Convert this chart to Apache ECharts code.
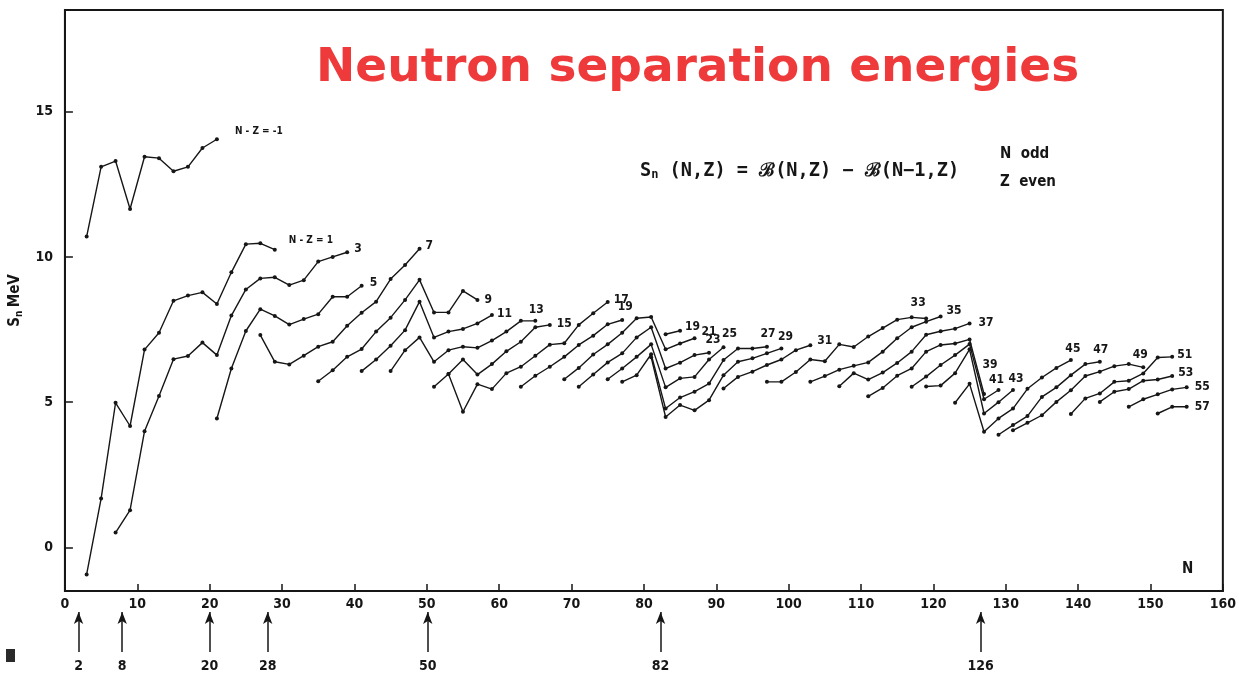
<!DOCTYPE html>
<html>
<head>
<meta charset="utf-8">
<title>Neutron separation energies</title>
<script src="https://cdn.jsdelivr.net/npm/echarts@6/dist/echarts.min.js"></script>
<style>
  html, body { margin: 0; padding: 0; background: #fff; }
  #chart { width: 1239px; height: 677px; }
</style>
</head>
<body>
<div id="chart"></div>
<script>
// Sn (MeV) along lines of constant N-Z, N odd / Z even, one point every 2 in N
const sn_m1 = [10.7, 13.1, 13.3, 11.65, 13.45, 13.4, 12.95, 13.1, 13.75, 14.05];
const sn_1 = [-0.93, 1.68, 4.98, 4.18, 6.81, 7.39, 8.49, 8.67, 8.78, 8.38, 9.47, 10.44, 10.47, 10.25];
const sn_3 = [0.51, 1.28, 4.0, 5.21, 6.48, 6.59, 7.05, 6.62, 7.98, 8.88, 9.26, 9.3, 9.03, 9.2, 9.84, 10.0, 10.16];
const sn_5 = [4.44, 6.16, 7.45, 8.2, 7.97, 7.67, 7.86, 8.03, 8.63, 8.63, 9.01];
const sn_7 = [7.31, 6.39, 6.3, 6.6, 6.91, 7.08, 7.63, 8.08, 8.46, 9.24, 9.72, 10.28];
const sn_9 = [5.72, 6.1, 6.56, 6.83, 7.43, 7.91, 8.52, 9.21, 8.09, 8.09, 8.83, 8.52];
const sn_11 = [6.07, 6.47, 6.94, 7.48, 8.46, 7.23, 7.43, 7.52, 7.71, 8.0];
const sn_13 = [6.07, 6.79, 7.23, 6.39, 6.79, 6.91, 6.87, 7.12, 7.43, 7.8, 7.8];
const sn_15 = [5.53, 5.97, 6.47, 5.95, 6.31, 6.75, 7.08, 7.58, 7.66];
const sn_17 = [5.97, 4.67, 5.62, 5.45, 6.0, 6.22, 6.6, 6.98, 7.03, 7.66, 8.06, 8.45];
const sn_19a = [5.53, 5.91, 6.22, 6.56, 6.97, 7.29, 7.68, 7.83];
const sn_19b = [7.34, 7.46];
const sn_21 = [5.79, 6.18, 6.64, 6.99, 7.39, 7.89, 7.93, 6.82, 7.02, 7.2];
const sn_23 = [5.53, 5.95, 6.37, 6.68, 7.23, 7.58, 6.16, 6.36, 6.62, 6.7];
const sn_25 = [5.79, 6.16, 6.56, 6.99, 5.51, 5.82, 5.87, 6.47, 6.89];
const sn_27 = [5.7, 5.93, 6.65, 4.78, 5.16, 5.36, 5.64, 6.45, 6.85, 6.85, 6.91];
const sn_29 = [6.55, 4.49, 4.9, 4.72, 5.07, 5.93, 6.39, 6.51, 6.68, 6.85];
const sn_31 = [5.47, 5.87, 6.05, 6.28, 6.47, 6.79, 6.96];
const sn_33 = [5.7, 5.7, 6.04, 6.47, 6.41, 6.99, 6.9, 7.26, 7.55, 7.84, 7.92, 7.88];
const sn_35 = [5.7, 5.9, 6.12, 6.25, 6.37, 6.74, 7.2, 7.58, 7.77, 7.95];
const sn_37 = [5.55, 6.0, 5.78, 6.02, 6.35, 6.74, 7.32, 7.44, 7.53, 7.71];
const sn_39 = [5.2, 5.49, 5.91, 6.16, 6.74, 6.97, 7.02, 7.16, 5.28];
const sn_41 = [5.53, 5.88, 6.28, 6.62, 7.0, 5.1, 5.42];
const sn_43 = [5.54, 5.57, 6.0, 6.82, 4.61, 5.0, 5.42];
const sn_45 = [4.98, 5.63, 3.98, 4.44, 4.78, 5.46, 5.85, 6.18, 6.45];
const sn_47 = [3.88, 4.21, 4.52, 5.18, 5.51, 5.93, 6.31, 6.39];
const sn_49 = [4.03, 4.29, 4.55, 5.01, 5.41, 5.9, 6.05, 6.24, 6.31, 6.2];
const sn_51 = [4.59, 5.13, 5.3, 5.7, 5.74, 5.99, 6.54, 6.56];
const sn_53 = [5.01, 5.36, 5.45, 5.74, 5.78, 5.9];
const sn_55 = [4.84, 5.1, 5.27, 5.44, 5.51];
const sn_57 = [4.61, 4.84, 4.84];

const curveSn = [sn_m1, sn_1, sn_3, sn_5, sn_7, sn_9, sn_11, sn_13, sn_15, sn_17, sn_19a, sn_19b,
  sn_21, sn_23, sn_25, sn_27, sn_29, sn_31, sn_33, sn_35, sn_37, sn_39, sn_41, sn_43,
  sn_45, sn_47, sn_49, sn_51, sn_53, sn_55, sn_57];
// first (odd) N of each curve
const curveStartN = [3, 3, 7, 21, 27, 35, 41, 45, 51, 53, 63, 83,
  69, 71, 75, 77, 81, 91, 97, 103, 107, 111, 117, 119,
  123, 129, 131, 139, 143, 147, 151];
const curveLabels = ['N - Z = -1', 'N - Z = 1', '3', '5', '7', '9', '11', '13', '15', '17', '19', '19',
  '21', '23', '25', '27', '29', '31', '33', '35', '37', '39', '41', '43',
  '45', '47', '49', '51', '53', '55', '57'];

const yTicks = [0, 5, 10, 15];
const magicNumbers = [2, 8, 20, 28, 50, 82, 126];

// where each curve's tag sits relative to its last point: [position, dx, dy]
const tagPlace = [
  ['right', 11, -8], ['right', 7, -9], ['right', 0, -3], ['right', 1, -3], ['right', -1, -3],
  ['right', 0, 0], ['right', -2, -1], ['top', 1, 2], ['right', 0, -1], ['right', -1, -2],
  ['top', 3, 0], ['right', -2, -4], ['right', 0, -6], ['top', 4, 0], ['top', 6, 0],
  ['top', 1, 0], ['top', 4, 1], ['right', 0, -4], ['top', -8, -3], ['right', -1, -6],
  ['right', 2, -1], ['top', 6, -16], ['top', -2, 3], ['top', 3, 2], ['top', 2, 2],
  ['top', 1, 1], ['top', -3, 1], ['right', -2, -2], ['right', -1, -3], ['right', 1, 0],
  ['right', 1, 0]
];

const INK = '#161616';
const NARROW = "'DejaVu Sans Condensed', 'Liberation Sans Narrow', 'DejaVu Sans', sans-serif";
const MONO = "'DejaVu Sans Mono', 'Liberation Mono', monospace";

const curveSeries = curveSn.map((vals, i) => {
  const pts = vals.map((v, k) => [curveStartN[i] + 2 * k, v]);
  const last = pts.length - 1;
  const [pos, dx, dy] = tagPlace[i];
  const small = i < 2;
  return {
    type: 'line',
    name: curveLabels[i],
    xAxisIndex: 0,
    yAxisIndex: 0,
    symbol: 'circle',
    symbolSize: 4,
    showSymbol: true,
    lineStyle: { color: INK, width: 1.4 },
    itemStyle: { color: INK },
    silent: true,
    animation: false,
    data: pts.map((p, k) => k === last ? {
      value: p,
      label: {
        show: true,
        formatter: curveLabels[i],
        position: pos,
        offset: [dx, dy],
        distance: 5,
        color: INK,
        fontFamily: NARROW,
        fontWeight: 'bold',
        fontSize: small ? 10 : 12
      }
    } : p)
  };
});

const chart = echarts.init(document.getElementById('chart'), null, { renderer: 'canvas' });

chart.setOption({
  backgroundColor: '#fff',
  animation: false,
  title: {
    text: 'Neutron separation energies',
    left: 311,
    top: 40,
    textStyle: {
      color: '#ee3a3a',
      fontFamily: "'Comic Sans MS', 'DejaVu Sans', sans-serif",
      fontWeight: 'bold',
      fontSize: 47
    }
  },
  grid: [
    { left: 64, right: 11, top: 10, bottom: 86, show: true, borderColor: INK, borderWidth: 2 },
    { left: 64, right: 11, top: 612, height: 40 }
  ],
  xAxis: [
    {
      type: 'value', min: 0, max: 160, interval: 10,
      axisLine: { onZero: false, lineStyle: { color: INK, width: 2 } },
      axisTick: { inside: true, length: 7, lineStyle: { color: INK, width: 1.5 } },
      axisLabel: { color: INK, fontFamily: NARROW, fontWeight: 'bold', fontSize: 14, margin: 6 },
      splitLine: { show: false }
    },
    { type: 'value', gridIndex: 1, min: 0, max: 160, show: false }
  ],
  yAxis: [
    {
      type: 'value', min: -1.5, max: 18.5,
      axisLine: { show: true, onZero: false, lineStyle: { color: INK, width: 2 } },
      axisTick: { inside: true, length: 8, lineStyle: { color: INK, width: 1.5 }, customValues: yTicks },
      axisLabel: { color: INK, fontFamily: NARROW, fontWeight: 'bold', fontSize: 14, margin: 12, customValues: yTicks },
      splitLine: { show: false },
      name: '{s|S}{n|n} {s|MeV}',
      nameLocation: 'middle',
      nameGap: 24,
      nameTextStyle: {
        rich: {
          s: { fontFamily: NARROW, fontWeight: 'bold', fontSize: 15, color: INK },
          n: { fontFamily: NARROW, fontWeight: 'bold', fontSize: 10, color: INK, verticalAlign: 'bottom', padding: [8, 0, 0, 0] }
        }
      }
    },
    { type: 'value', gridIndex: 1, min: 0, max: 1, show: false }
  ],
  graphic: [
    {
      type: 'text', left: 640, top: 162,
      style: {
        text: '{s|S}{n|n}{s| (N,Z) = ℬ(N,Z) − ℬ(N−1,Z)}',
        rich: {
          s: { fontFamily: MONO, fontWeight: 'bold', fontSize: 18.6, fill: INK },
          n: { fontFamily: MONO, fontWeight: 'bold', fontSize: 12, fill: INK, padding: [7, 0, 0, 0] }
        }
      }
    },
    { type: 'text', left: 1000, top: 147, style: { text: 'N  odd', font: "bold 15px 'DejaVu Sans Condensed', sans-serif", fill: INK } },
    { type: 'text', left: 1000, top: 175, style: { text: 'Z  even', font: "bold 15px 'DejaVu Sans Condensed', sans-serif", fill: INK } },
    { type: 'text', left: 1182, top: 562, style: { text: 'N', font: "bold 15px 'DejaVu Sans Condensed', sans-serif", fill: INK } },
    { type: 'rect', left: 6, top: 649, shape: { width: 9, height: 13 }, style: { fill: '#2a2a2a' } }
  ],
  series: curveSeries.concat([{
    type: 'line',
    xAxisIndex: 1,
    yAxisIndex: 1,
    data: [],
    silent: true,
    markLine: {
      silent: true,
      animation: false,
      symbol: ['none', 'arrow'],
      symbolSize: [7, 12],
      lineStyle: { color: INK, width: 1.5, type: 'solid' },
      label: {
        position: 'start',
        distance: 7,
        formatter: (p) => String(p.value),
        color: INK,
        fontFamily: NARROW,
        fontWeight: 'bold',
        fontSize: 14
      },
      data: magicNumbers.map(v => ({ xAxis: v }))
    }
  }])
});
</script>
</body>
</html>
